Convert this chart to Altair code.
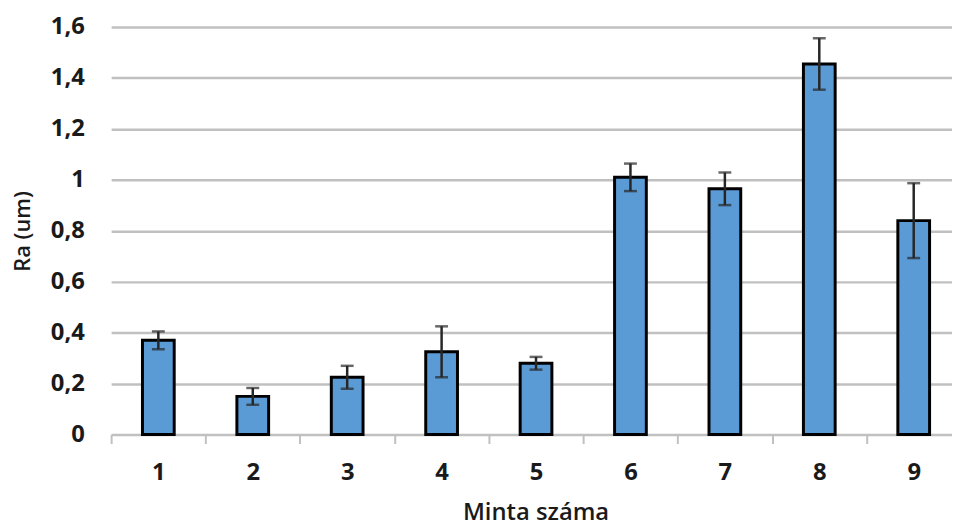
import altair as alt
import pandas as pd

samples = ["1", "2", "3", "4", "5", "6", "7", "8", "9"]
ra_mean = [0.37, 0.15, 0.225, 0.325, 0.28, 1.01, 0.965, 1.455, 0.84]
ra_err = [0.035, 0.033, 0.045, 0.10, 0.025, 0.054, 0.064, 0.101, 0.147]
y_ticks = [0, 0.2, 0.4, 0.6, 0.8, 1.0, 1.2, 1.4, 1.6]

df = pd.DataFrame({"minta": samples, "ra": ra_mean, "err": ra_err})

FONT = "Open Sans"
TXT = "#1a1a1a"

base = alt.Chart(df).transform_calculate(
    lo="datum.ra - datum.err", hi="datum.ra + datum.err"
)

x_enc = alt.X(
    "minta:N",
    sort=samples,
    scale=alt.Scale(range=[0, 857], paddingInner=0, paddingOuter=0),
    axis=alt.Axis(
        title="Minta száma",
        labelAngle=0,
        labelFont=FONT,
        labelFontSize=24,
        labelFontWeight="bold",
        labelColor=TXT,
        labelPadding=17,
        tickBand="extent",
        tickSize=9,
        tickWidth=2,
        tickColor="#c0c0c0",
        domainColor="#c0c0c0",
        domainWidth=2,
        grid=False,
        titleFont=FONT,
        titleFontSize=24,
        titleFontWeight=600,
        titleColor=TXT,
        titleX=428,
        titleY=91,
        titleBaseline="bottom",
    ),
)

y_scale = alt.Scale(domain=[0, 1.6], nice=False)

bars = base.mark_bar(
    width=32, color="#5b9bd5", stroke="#000000", strokeWidth=3
).encode(
    x=x_enc,
    y=alt.Y(
        "ra:Q",
        scale=y_scale,
        axis=alt.Axis(
            title="Ra (um)",
            values=y_ticks,
            labelExpr="replace(format(datum.value, '~g'), '.', ',')",
            labelFont=FONT,
            labelFontSize=24,
            labelFontWeight="bold",
            labelColor=TXT,
            labelPadding=27,
            ticks=False,
            domain=False,
            grid=True,
            gridColor="#c0c0c0",
            gridWidth=2.5,
            titleFont=FONT,
            titleFontSize=22,
            titleFontWeight=600,
            titleColor=TXT,
            titleX=-89,
            titleBaseline="middle",
        ),
    ),
)

rules = base.mark_rule(color="#262626", strokeWidth=2.5).encode(
    x=alt.X("minta:N", sort=samples),
    y=alt.Y("lo:Q", scale=y_scale),
    y2="hi:Q",
)

caps_lo = base.mark_tick(color="#262626", thickness=2.5, size=13).encode(
    x=alt.X("minta:N", sort=samples),
    y=alt.Y("lo:Q", scale=y_scale),
)
caps_hi = base.mark_tick(color="#262626", thickness=2.5, size=13).encode(
    x=alt.X("minta:N", sort=samples),
    y=alt.Y("hi:Q", scale=y_scale),
)

chart = alt.layer(bars, rules, caps_lo, caps_hi).properties(
    width=848,
    height=411,
    autosize=alt.AutoSizeParams(type="none"),
    padding={"left": 104, "top": 17, "right": 0, "bottom": 92},
).configure_view(stroke=None)

chart.save("out.html", embed_options={"renderer": "svg", "actions": False})
